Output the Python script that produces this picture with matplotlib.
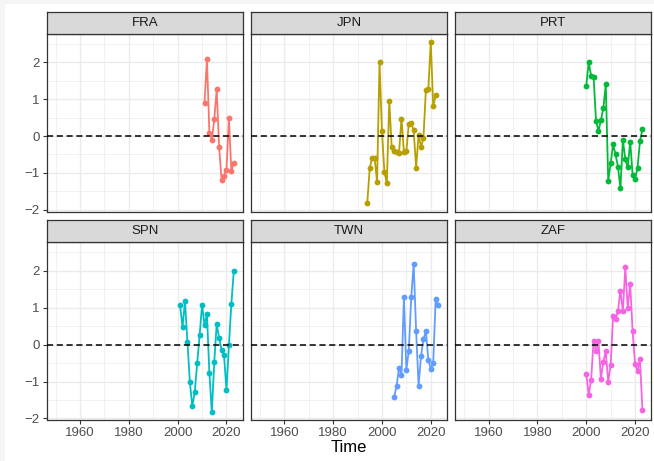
import numpy as np
import matplotlib
matplotlib.use("Agg")
import matplotlib.pyplot as plt
from matplotlib.patches import Rectangle

plt.rcParams['font.family'] = ['Liberation Sans', 'DejaVu Sans']

# data
fra_years = list(range(2011, 2024))
fra_vals = [0.89, 2.09, 0.09, -0.11, 0.45, 1.26, -0.31, -1.19, -1.07, -0.92, 0.48, -0.96, -0.72]

jpn_years = list(range(1994, 2023))
jpn_vals = [-1.80, -0.86, -0.59, -0.60, -1.24, 1.99, 0.13, -0.97, -1.28, 0.95, -0.31,
            -0.40, -0.42, -0.45, 0.47, -0.43, -0.41, 0.33, 0.34, 0.15, -0.86, 0.04,
            -0.30, -0.05, 1.25, 1.27, 2.55, 0.80, 1.10]

prt_years = list(range(2000, 2024))
prt_vals = [1.36, 1.99, 1.63, 1.61, 0.41, 0.14, 0.42, 0.75, 1.40, -1.21, -0.74, -0.23,
            -0.50, -0.83, -1.42, -0.11, -0.63, -0.85, -0.15, -1.06, -1.16, -0.87, -0.14, 0.18]

spn_years = list(range(2001, 2024))
spn_vals = [1.06, 0.47, 1.18, 0.08, -1.01, -1.67, -1.28, -0.51, 0.25, 1.08, 0.53, 0.82,
            -0.77, -1.83, -0.47, 0.56, 0.17, -0.14, -0.28, -1.24, -0.02, 1.10, 2.00]

twn_years = list(range(2005, 2024))
twn_vals = [-1.42, -1.11, -0.63, -0.82, 1.28, -0.68, -0.16, 1.29, 2.18, 0.37, -1.11,
            -0.32, 0.15, 0.36, -0.41, -0.66, -0.50, 1.23, 1.08]

zaf_years = list(range(2000, 2024))
zaf_vals = [-0.79, -1.37, -0.95, 0.11, -0.18, 0.09, -0.93, -0.46, -0.18, -1.01, -0.54,
            0.77, 0.68, 0.90, 1.46, 0.90, 2.09, 0.99, 1.64, 0.36, -0.53, -0.72, -0.38, -1.76]

countries = ['FRA', 'JPN', 'PRT', 'SPN', 'TWN', 'ZAF']
years = [fra_years, jpn_years, prt_years, spn_years, twn_years, zaf_years]
values = [fra_vals, jpn_vals, prt_vals, spn_vals, twn_vals, zaf_vals]
colors = ['#F8766D', '#B79F00', '#00BA38', '#00BFC4', '#619CFF', '#F564E3']

x_span = (1950, 2023)
x_major = [1960, 1980, 2000, 2020]
x_minor = [1950, 1970, 1990, 2010]
y_major = [-2, -1, 0, 1, 2]
y_minor = [-1.5, -0.5, 0.5, 1.5, 2.5]

# limits with ggplot-like 5% expansion
xpad = 0.05 * (x_span[1] - x_span[0])
xlim = (x_span[0] - xpad, x_span[1] + xpad)
all_vals = np.concatenate([np.array(v) for v in values])
ypad = 0.05 * (all_vals.max() - all_vals.min())
ylim = (all_vals.min() - ypad, all_vals.max() + ypad)

W, H = 654, 461
fig = plt.figure(figsize=(W / 100, H / 100), dpi=100)
fig.patch.set_facecolor('#f5f5f5')
fig.patches.append(Rectangle((5 / W, 0), 1, 1 - 4 / H, transform=fig.transFigure,
                             facecolor='white', edgecolor='none', zorder=-10))

col_left = [46.7, 251.0, 455.3]
pw = 196.0
row_top = [33.7, 242.3]
ph = 178.0
strip_h = 22.0

for i, (name, xs, ys, c) in enumerate(zip(countries, years, values, colors)):
    r, k = divmod(i, 3)
    l = col_left[k]
    t = row_top[r]
    ax = fig.add_axes([l / W, 1 - (t + ph) / H, pw / W, ph / H])
    ax.set_xlim(xlim)
    ax.set_ylim(ylim)
    ax.set_xticks(x_major)
    ax.set_xticks(x_minor, minor=True)
    ax.set_yticks(y_major)
    ax.set_yticks(y_minor, minor=True)
    ax.grid(True, which='major', color='#ebebeb', lw=1.0, zorder=0)
    ax.grid(True, which='minor', color='#ebebeb', lw=0.5, zorder=0)
    ax.set_axisbelow(True)
    for s in ax.spines.values():
        s.set_color('#333333')
        s.set_linewidth(0.9)
    ax.tick_params(which='minor', length=0)
    ax.tick_params(which='major', length=2.75, width=0.8, color='#333333',
                   labelsize=9.5, labelcolor='#4d4d4d', pad=2.2)
    if r == 0:
        ax.tick_params(axis='x', which='major', length=0, labelbottom=False)
    if k != 0:
        ax.tick_params(axis='y', which='major', length=0, labelleft=False)

    ax.plot(xs, ys, color=c, lw=1.3, marker='o', ms=4.2, mew=0, zorder=3)
    ax.axhline(0, color='black', lw=1.1, dashes=(4.0, 2.4), zorder=4)

    sax = fig.add_axes([l / W, 1 - t / H, pw / W, strip_h / H])
    sax.set_facecolor('#d9d9d9')
    sax.set_xticks([])
    sax.set_yticks([])
    for s in sax.spines.values():
        s.set_color('#333333')
        s.set_linewidth(0.9)
    sax.text(0.5, 0.5, name, ha='center', va='center', fontsize=9.5,
             color='#1a1a1a', transform=sax.transAxes)

fig.text(349 / W, 1 - 447.5 / H, 'Time', ha='center', va='center', fontsize=12, color='black')

fig.savefig('out.png', dpi=100)
